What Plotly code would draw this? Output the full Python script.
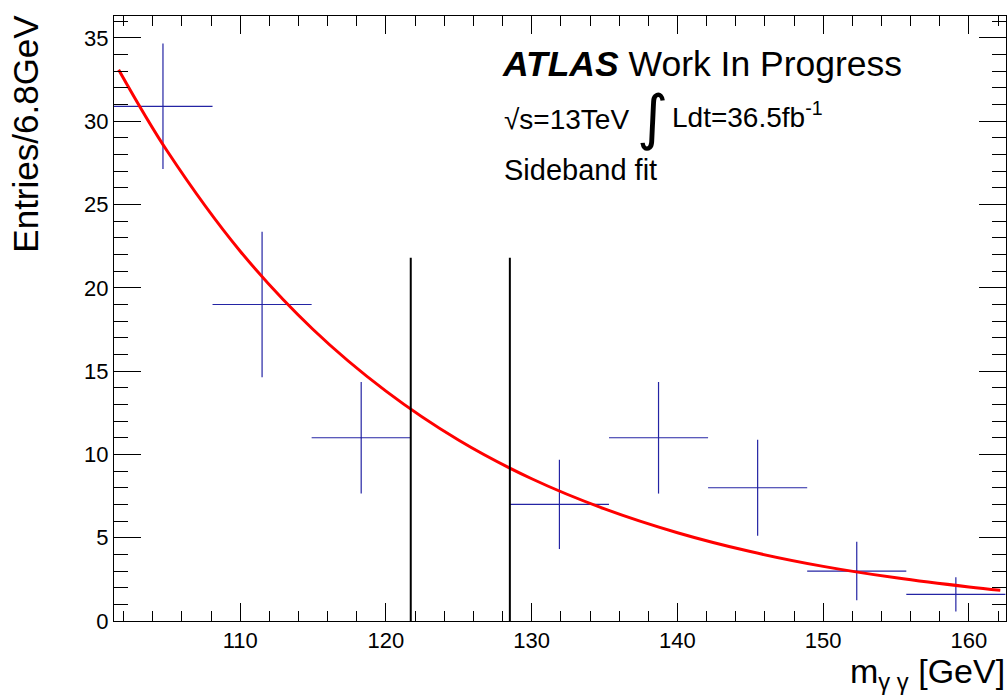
import plotly.graph_objects as go

# ---- data ----
bin_centers = [104.7, 111.5, 118.3, 131.9, 138.7, 145.5, 152.3, 159.1]
bin_values = [30.9, 19.0, 11.0, 7.0, 11.0, 8.0, 3.0, 1.6]
bin_errors = [3.77, 4.37, 3.35, 2.68, 3.35, 2.88, 1.76, 1.03]
bin_halfwidth = [3.4] * len(bin_centers)

fit_x = [101.66, 105, 110, 115, 120, 125, 130, 135, 140, 145, 150, 155, 160, 162.15]
fit_y = [33.1, 28.2, 22.2, 17.5, 13.8, 10.85, 8.54, 6.73, 5.30, 4.17, 3.28, 2.59, 2.04, 1.84]

window_edges = [121.7, 128.5]
window_top = 21.8

x_range = [101.34, 162.54]
y_range = [0, 36.32]

FONT = "Liberation Sans, Arial, sans-serif"
BLUE = "#2424a4"

fig = go.Figure()

fig.add_trace(go.Scatter(
    x=bin_centers, y=bin_values, mode="markers",
    marker=dict(size=1, color=BLUE),
    error_x=dict(type="data", array=bin_halfwidth, width=0, thickness=1.2, color=BLUE),
    error_y=dict(type="data", array=bin_errors, width=0, thickness=1.2, color=BLUE),
    showlegend=False, hoverinfo="skip"))

fig.add_trace(go.Scatter(
    x=fit_x, y=fit_y, mode="lines", line=dict(color="red", width=3, shape="spline"),
    showlegend=False, hoverinfo="skip"))

for xe in window_edges:
    fig.add_trace(go.Scatter(
        x=[xe, xe], y=[0, window_top], mode="lines",
        line=dict(color="black", width=2), showlegend=False, hoverinfo="skip"))

axis_common = dict(showgrid=False, zeroline=False, showline=True, linecolor="black",
                   linewidth=1, mirror="ticks", ticks="inside", tickcolor="black",
                   tickwidth=1, tickfont=dict(family=FONT, size=22, color="black"))

fig.update_xaxes(range=x_range, tick0=0, dtick=10, ticklen=18,
                 minor=dict(dtick=2, ticklen=10, ticks="inside", tickcolor="black"),
                 **axis_common)
fig.update_yaxes(range=y_range, tick0=0, dtick=5, ticklen=27,
                 minor=dict(dtick=1, ticklen=14, ticks="inside", tickcolor="black"),
                 **axis_common)

def pap_x(px):
    return (px - 114.3) / 891.7

def pap_y(py):
    return (621.4 - py) / 605.4

ann = [
    dict(text="<b><i>ATLAS</i></b> Work In Progress", x=pap_x(500), y=pap_y(64),
         xanchor="left", yanchor="middle", font=dict(family=FONT, size=35.5, color="black")),
    dict(text="√s=13TeV", x=pap_x(502), y=pap_y(120),
         xanchor="left", yanchor="middle", font=dict(family=FONT, size=28, color="black")),
    dict(text="∫", x=pap_x(653), y=pap_y(117),
         xanchor="center", yanchor="middle", font=dict(family="DejaVu Sans", size=60, color="black")),
    dict(text="Ldt=36.5fb<sup>-1</sup>", x=pap_x(670), y=pap_y(115),
         xanchor="left", yanchor="middle", font=dict(family=FONT, size=28, color="black")),
    dict(text="Sideband fit", x=pap_x(502), y=pap_y(170),
         xanchor="left", yanchor="middle", font=dict(family=FONT, size=29, color="black")),
    dict(text="Entries/6.8GeV", x=pap_x(25), y=pap_y(13), textangle=-90,
         xanchor="center", yanchor="top", font=dict(family=FONT, size=35, color="black")),
    dict(text="m<sub>γ γ</sub> [GeV]", x=pap_x(1007), y=pap_y(674),
         xanchor="right", yanchor="middle", font=dict(family=FONT, size=34, color="black")),
]
for a in ann:
    a.update(xref="paper", yref="paper", showarrow=False)
fig.update_layout(annotations=ann)

fig.update_layout(width=1008, height=698, margin=dict(l=114, r=2, t=16, b=77),
                  paper_bgcolor="white", plot_bgcolor="white")

fig.write_html("out.html")
